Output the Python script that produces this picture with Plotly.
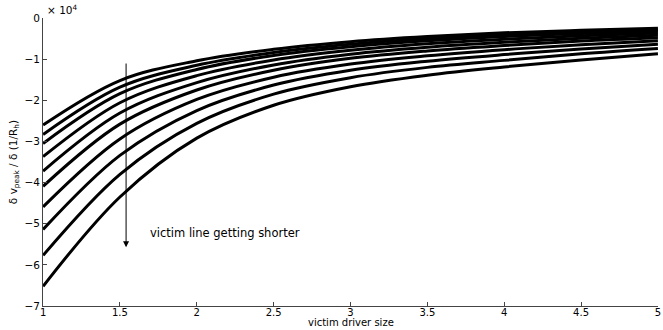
import plotly.graph_objects as go

# x positions (victim driver size)
x_size = [1.0, 1.5, 2.0, 2.5, 3.0, 3.5, 4.0, 4.5, 5.0]

# y values in units of 1e4, one list per curve (top -> bottom)
curve_01 = [-2.60, -1.52, -1.04, -0.76, -0.575, -0.45, -0.36, -0.30, -0.25]
curve_02 = [-2.83, -1.68, -1.15, -0.84, -0.64, -0.50, -0.405, -0.337, -0.283]
curve_03 = [-3.05, -1.84, -1.25, -0.91, -0.70, -0.555, -0.45, -0.378, -0.317]
curve_04 = [-3.37, -2.06, -1.40, -1.02, -0.785, -0.627, -0.516, -0.431, -0.364]
curve_05 = [-3.72, -2.31, -1.57, -1.14, -0.88, -0.71, -0.59, -0.495, -0.42]
curve_06 = [-4.09, -2.58, -1.75, -1.27, -0.98, -0.80, -0.67, -0.56, -0.48]
curve_07 = [-4.59, -2.94, -1.98, -1.44, -1.12, -0.92, -0.77, -0.65, -0.555]
curve_08 = [-5.14, -3.34, -2.25, -1.63, -1.27, -1.05, -0.89, -0.755, -0.64]
curve_09 = [-5.77, -3.80, -2.56, -1.85, -1.45, -1.20, -1.03, -0.87, -0.74]
curve_10 = [-6.52, -4.35, -2.92, -2.12, -1.67, -1.39, -1.19, -1.02, -0.87]
curves = [curve_01, curve_02, curve_03, curve_04, curve_05,
          curve_06, curve_07, curve_08, curve_09, curve_10]

x_ticks = [1, 1.5, 2, 2.5, 3, 3.5, 4, 4.5, 5]
x_ticktext = ["1", "1.5", "2", "2.5", "3", "3.5", "4", "4.5", "5"]
y_ticks = [0, -1, -2, -3, -4, -5, -6, -7]
y_ticktext = ["0", "\u22121", "\u22122", "\u22123", "\u22124", "\u22125", "\u22126", "\u22127"]

# arrow and annotation data
arrow_x = 1.54
arrow_y_start = -1.07
arrow_y_end = -5.57
note_x = 1.68
note_y = -5.23
note_text = "victim line getting shorter"
x_title = "victim driver size"
y_title = "\u03b4 v<sub>peak</sub> / \u03b4 (1/R<sub>h</sub>)"
exp_label = "\u00d7 10<sup>4</sup>"

FONT = "DejaVu Sans, Arial, sans-serif"

fig = go.Figure()
for c in curves:
    fig.add_trace(go.Scatter(x=x_size, y=c, mode="lines",
                             line=dict(color="black", width=3, shape="spline", smoothing=1.0),
                             showlegend=False, hoverinfo="skip"))

axis_common = dict(showgrid=False, zeroline=False, showline=True, linecolor="#444444",
                   linewidth=1, ticks="inside", ticklen=4, tickcolor="#444444",
                   tickfont=dict(family=FONT, size=10.5, color="black"), mirror=False)

fig.update_xaxes(range=[0.9995, 5.0005], tickvals=x_ticks, ticktext=x_ticktext,
                 ticklabeloverflow="allow", **axis_common)
fig.update_xaxes(tickfont=dict(family=FONT, size=10, color="black"), ticklabelstandoff=-3)
fig.update_yaxes(range=[-7, 0], tickvals=y_ticks, ticktext=y_ticktext,
                 title=dict(text=y_title, font=dict(family=FONT, size=10.5, color="black"), standoff=4),
                 **axis_common)

fig.add_annotation(x=0.5, y=-24 / 288, xref="paper", yref="paper", text=x_title, showarrow=False,
                   xanchor="center", yanchor="bottom", yshift=0,
                   font=dict(family=FONT, size=10, color="black"))
fig.add_annotation(x=arrow_x, y=arrow_y_end, ax=arrow_x, ay=arrow_y_start,
                   xref="x", yref="y", axref="x", ayref="y", text="",
                   showarrow=True, arrowhead=2, arrowsize=1.2, arrowwidth=1, arrowcolor="black")
fig.add_annotation(x=note_x, y=note_y, xref="x", yref="y", text=note_text,
                   showarrow=False, xanchor="left", yanchor="middle",
                   font=dict(family=FONT, size=11.5, color="black"))
fig.add_annotation(x=0, y=1, xref="paper", yref="paper", text=exp_label,
                   showarrow=False, xanchor="left", yanchor="bottom", xshift=2,
                   font=dict(family=FONT, size=10.5, color="black"))

fig.update_layout(width=663, height=330, plot_bgcolor="white", paper_bgcolor="white",
                  margin=dict(l=43, r=2, t=18, b=24))

fig.write_html("out.html")
